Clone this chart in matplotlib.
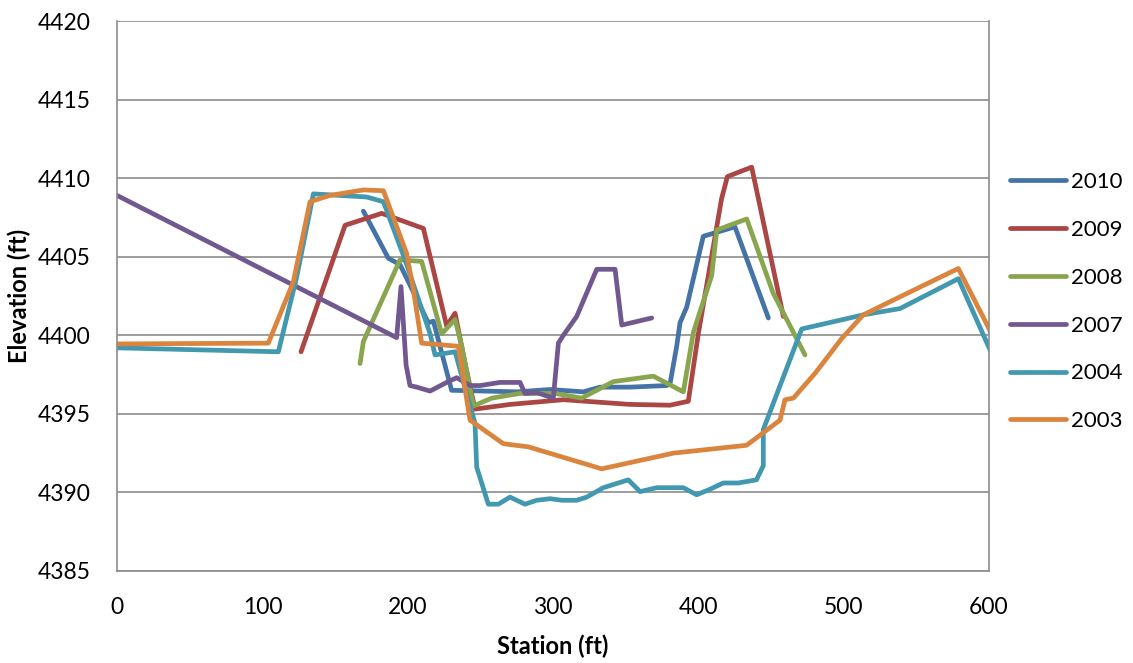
import matplotlib
matplotlib.use('Agg')
import matplotlib.pyplot as plt

plt.rcParams['font.family'] = ['Lato', 'DejaVu Sans']

# survey profiles, station (ft) vs elevation (ft)
st_2010 = [169.5, 186.7, 194.7, 214.2, 217.7, 230.2, 275, 298, 320.9, 332.4, 353, 378.2, 380.5, 385.1,
           387.4, 392, 403.4, 425.2, 448.2]
el_2010 = [4407.9, 4404.9, 4404.5, 4400.8, 4400.9, 4396.5, 4396.4, 4396.55, 4396.4, 4396.7, 4396.7, 4396.8,
           4396.9, 4399.3, 4400.8, 4401.8, 4406.3, 4406.9, 4401.1]

st_2009 = [126.6, 156.9, 182.1, 210.8, 226.8, 232.6, 239.5, 246.3, 270.4, 307.1, 353, 380.5, 393.1, 400,
           416, 420, 436.7, 458.5]
el_2009 = [4398.95, 4407.0, 4407.76, 4406.8, 4400.6, 4401.4, 4398.2, 4395.3, 4395.6, 4395.9, 4395.6,
           4395.55, 4395.8, 4400.1, 4408.7, 4410.1, 4410.7, 4401.2]

st_2008 = [167.2, 169.5, 194.7, 209.6, 223.4, 232.6, 237.2, 245.2, 257.8, 277.3, 301.4, 319.7, 341.5, 369,
           389.7, 396.6, 409.2, 412.7, 433.3, 451.4, 473.4]
el_2008 = [4398.2, 4399.6, 4404.8, 4404.7, 4400.1, 4401.0, 4399.3, 4395.5, 4396.0, 4396.3, 4396.3, 4396.0,
           4397.05, 4397.4, 4396.4, 4400.2, 4403.8, 4406.7, 4407.4, 4402.7, 4398.75]

st_2007 = [0, 192.4, 195.4, 198.9, 201.6, 206.2, 215.4, 226.8, 233.7, 242.9, 249.8, 263.5, 277.3, 280.7,
           288.8, 300.2, 303.7, 307.1, 316.3, 330.1, 342.7, 347.3, 367.9]
el_2007 = [4408.9, 4399.85, 4403.1, 4398.1, 4396.8, 4396.7, 4396.45, 4397.0, 4397.3, 4396.8, 4396.8, 4397.0,
           4397.0, 4396.3, 4396.35, 4396.0, 4399.5, 4400.0, 4401.2, 4404.2, 4404.2, 4400.65, 4401.1]

st_2004 = [0, 111, 123.6, 135.1, 171.8, 183.3, 198.2, 215.4, 218.8, 232.6, 246.3, 247.5, 255.5, 262.4,
           270.4, 280.7, 288.8, 298, 306, 316.3, 323.2, 334.6, 351.8, 359.9, 371.3, 389.7, 398.8, 408,
           417.2, 427.5, 440, 444.7, 444.7, 471.1, 513.5, 538.8, 578.9, 599.6, 610]
el_2004 = [4399.2, 4398.95, 4403.7, 4409.0, 4408.8, 4408.5, 4404.8, 4400.1, 4398.75, 4398.95, 4394.4,
           4391.6, 4389.25, 4389.25, 4389.7, 4389.25, 4389.5, 4389.6, 4389.5, 4389.5, 4389.7, 4390.3,
           4390.8, 4390.05, 4390.3, 4390.3, 4389.85, 4390.2, 4390.6, 4390.6, 4390.8, 4391.7, 4394.0,
           4400.4, 4401.3, 4401.7, 4403.6, 4399.3, 4397.2]

st_2003 = [0, 104.1, 121.3, 132.8, 146.5, 169.5, 183.3, 199.3, 203.9, 209.6, 234.8, 242.9, 265.8, 283,
           333.5, 382.8, 433.2, 456.2, 459.6, 465.4, 480.5, 498.7, 513.5, 538.8, 578.9, 599.6, 610]
el_2003 = [4399.45, 4399.5, 4403.4, 4408.5, 4408.9, 4409.25, 4409.2, 4405.2, 4402.9, 4399.5, 4399.3,
           4394.6, 4393.1, 4392.9, 4391.5, 4392.5, 4393.0, 4394.6, 4395.9, 4396.0, 4397.6, 4399.8,
           4401.3, 4402.45, 4404.25, 4400.5, 4398.6]

years = ['2010', '2009', '2008', '2007', '2004', '2003']
stations = [st_2010, st_2009, st_2008, st_2007, st_2004, st_2003]
elevations = [el_2010, el_2009, el_2008, el_2007, el_2004, el_2003]
colors = ['#4572A7', '#AA4643', '#89A54E', '#71588F', '#4198AF', '#DB843D']

fig = plt.figure(figsize=(11.33, 6.63), dpi=100)
ax = fig.add_axes([0.1033, 0.1388, 0.7696, 0.8295])

for yr, x, y, c in zip(years, stations, elevations, colors):
    ax.plot(x, y, color=c, lw=3.4, label=yr, solid_capstyle='round', solid_joinstyle='round')

ax.set_xlim(0, 600)
ax.set_ylim(4385, 4420)
ax.set_xticks(range(0, 601, 100))
ax.set_yticks(range(4385, 4421, 5))
ax.grid(axis='y', color='#8c8c8c', lw=1.2)
ax.set_axisbelow(True)
for side in ['left', 'right', 'bottom']:
    ax.spines[side].set_color('#8c8c8c')
    ax.spines[side].set_linewidth(1.2)
ax.spines['top'].set_visible(False)
ax.tick_params(length=0, labelsize=16.5, pad=19)

ax.set_xlabel('Station (ft)', fontsize=17, fontweight='bold', labelpad=12)
ax.set_ylabel('Elevation (ft)', fontsize=17, fontweight='bold', labelpad=5)

fig.legend(loc='center left', bbox_to_anchor=(0.874, 0.545), frameon=False, fontsize=16,
           handlelength=2.5, handletextpad=0.25, labelspacing=1.25)

plt.savefig('out.png', dpi=100)
